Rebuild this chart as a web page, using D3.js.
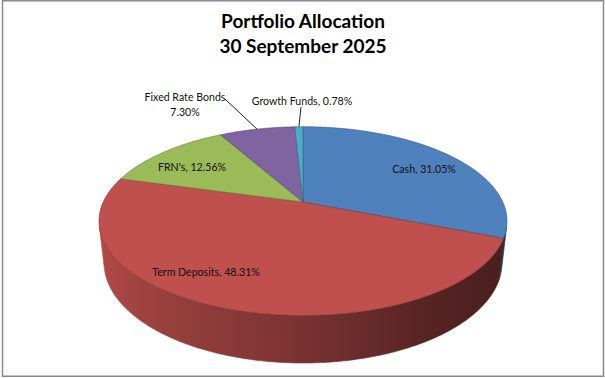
<!DOCTYPE html>
<html><head><meta charset="utf-8">
<script src="https://cdn.jsdelivr.net/npm/d3@7"></script>
<style>body{margin:0;background:#fff}svg{display:block}</style></head>
<body><svg id="c" width="605" height="378"></svg>
<script>
// ---------- data ----------
const categories = ["Cash", "Term Deposits", "FRN's", "Fixed Rate Bonds", "Growth Funds"];
const values = [31.05, 48.31, 12.56, 7.30, 0.78];
const colors = ["#4F81BD", "#C0504D", "#9BBB59", "#8064A2", "#4BACC6"];
const titleLines = ["Portfolio Allocation", "30 September 2025"];

// ---------- layout ----------
const W = 605, H = 378;
const cx = 303, cy = 202;         // projected pie centre
const f = 881, D = 4.41;          // perspective focal length / camera distance
const elev = Math.asin(0.453);    // camera elevation
const s = Math.sin(elev), c = Math.cos(elev);
const depth = 0.235;              // thickness of pie (unit radius)
const font = "Lato, 'Open Sans', sans-serif";

const svg = d3.select("#c");
svg.append("rect").attr("width", W).attr("height", H).attr("fill", "#fff");
svg.append("rect").attr("x", 2.5).attr("y", 0.75).attr("width", 601).attr("height", 375.5)
  .attr("fill", "none").attr("stroke", "#8a8a8a").attr("stroke-width", 1.5);

// projection of unit-circle pie point: angle a (d3 pie convention: 0 = back, clockwise from above), radius r, height y
function proj(a, r, y) {
  const X = r * Math.sin(a), Z = -r * Math.cos(a);
  const d = D - (y * s + Z * c);
  const v = y * c - Z * s;
  return [cx + f * X / d, cy - f * v / d];
}

const pie = d3.pie().sort(null).value(d => d)(values);
const step = Math.PI / 360;
function arcPts(a0, a1, y) {
  const n = Math.max(2, Math.ceil((a1 - a0) / step));
  return d3.range(n + 1).map(i => proj(a0 + (a1 - a0) * i / n, 1, y));
}
const line = d3.line();

// side gradients
const defs = svg.append("defs");
const xL = cx - 208, xR = cx + 208;
colors.forEach((col, i) => {
  const g = defs.append("linearGradient").attr("id", "side" + i)
    .attr("gradientUnits", "userSpaceOnUse").attr("x1", xL).attr("x2", xR).attr("y1", 0).attr("y2", 0);
  const base = d3.rgb(col);
  [[0, 0.93], [0.12, 0.82], [0.5, 0.63], [0.8, 0.45], [1, 0.38]].forEach(([o, k]) => {
    g.append("stop").attr("offset", o).attr("stop-color", d3.rgb(base.r * k, base.g * k, base.b * k).formatHex());
  });
});

// visible (front-facing) wall range
const aVis = Math.acos(-1 / (D * c));
const vis0 = aVis, vis1 = 2 * Math.PI - aVis;

const sides = svg.append("g");
pie.forEach((p, i) => {
  const a0 = Math.max(p.startAngle, vis0), a1 = Math.min(p.endAngle, vis1);
  if (a1 <= a0) return;
  const top = arcPts(a0, a1, 0), bot = arcPts(a0, a1, -depth).reverse();
  sides.append("path").attr("d", line(top.concat(bot)) + "Z")
    .attr("fill", `url(#side${i})`).attr("stroke", `url(#side${i})`).attr("stroke-width", 0.6);
});

// top faces
const tops = svg.append("g");
pie.forEach((p, i) => {
  const pts = [proj(0, 0, 0)].concat(arcPts(p.startAngle, p.endAngle, 0));
  tops.append("path").attr("d", line(pts) + "Z")
    .attr("fill", colors[i])
    .attr("stroke", d3.rgb(colors[i]).darker(1.2)).attr("stroke-width", 0.6).attr("stroke-linejoin", "round");
});

// title
svg.append("g").selectAll("text").data(titleLines).join("text")
  .attr("x", cx).attr("y", (d, i) => 28 + i * 25)
  .attr("text-anchor", "middle").attr("font-family", font).attr("font-weight", "bold")
  .attr("font-size", 19).attr("fill", "#000").text(d => d);

// data labels
const fmt = v => d3.format(".2f")(v) + "%";
const labelLayout = [
  {x: 424, y: 169, lines: [categories[0] + ", " + fmt(values[0])]},
  {x: 206, y: 272, lines: [categories[1] + ", " + fmt(values[1])]},
  {x: 192, y: 167, lines: [categories[2] + ", " + fmt(values[2])]},
  {x: 185, y: 97, lines: [categories[3], fmt(values[3])], leaderFrom: [225, 99]},
  {x: 302, y: 101, lines: [categories[4] + ", " + fmt(values[4])], leaderFrom: [301, 107]}
];
const lab = svg.append("g");
labelLayout.forEach((L, i) => {
  const p = pie[i];
  if (L.leaderFrom) {
    const mid = (p.startAngle + p.endAngle) / 2;
    const end = proj(mid, 1, 0);
    lab.append("line").attr("x1", L.leaderFrom[0]).attr("y1", L.leaderFrom[1])
      .attr("x2", end[0]).attr("y2", end[1]).attr("stroke", "#222").attr("stroke-width", 1);
  }
  L.lines.forEach((t, j) => {
    lab.append("text").attr("x", L.x).attr("y", L.y + j * 15)
      .attr("text-anchor", "middle").attr("dominant-baseline", "central")
      .attr("font-family", font).attr("font-size", 10.6).attr("fill", "#111").text(t);
  });
});
</script></body></html>
